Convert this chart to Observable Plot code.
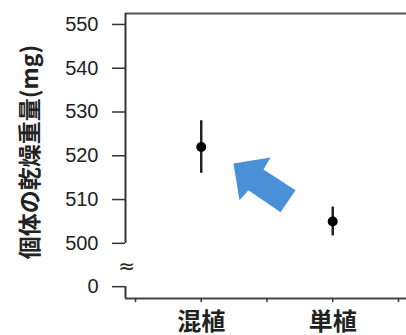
<!DOCTYPE html>
<html>
<head>
<meta charset="utf-8">
<script src="https://cdn.jsdelivr.net/npm/d3@7"></script>
<script src="https://cdn.jsdelivr.net/npm/@observablehq/plot@0.6"></script>
<style>
  html, body { margin: 0; padding: 0; background: #fff; }
</style>
</head>
<body>
<div id="chart"></div>
<script>
// ---- data ----
const categories = ["混植", "単植"];
const catPos = [1, 2];
const means = [522, 505];
const upper = [528, 508.3];
const lower = [516, 501.7];

const yTicks = [500, 510, 520, 530, 540, 550];
const zeroLabel = "0";
const zeroPos = 490.1;      // axis-break position where "0" is drawn
const breakMid = 494.6;     // position of the "≈" break symbol
const xTicks = [0.5, 1, 1.5, 2, 2.5];
const yTitle = "個体の乾燥重量(mg)";

// annotation arrow outline (data coordinates)
const arrowX = [1.245, 1.527, 1.473, 1.717, 1.603, 1.359, 1.291];
const arrowY = [518.26, 519.63, 516.89, 512.10, 507.08, 512.10, 509.82];

const xDomain = [0.424, 2.561];
const yDomain = [487.4, 552.5];

const points = categories.map((c, i) => ({c, x: catPos[i], m: means[i], lo: lower[i], hi: upper[i]}));
const arrow = arrowX.map((x, i) => ({x, y: arrowY[i]}));

const sans = "'Liberation Sans', Arial, Helvetica, sans-serif";
const cjk = "'Noto Sans CJK JP', 'Noto Sans CJK SC', sans-serif";

const chart = Plot.plot({
  width: 406,
  height: 335,
  marginLeft: 125,
  marginRight: 0,
  marginTop: 13,
  marginBottom: 37,
  style: {fontFamily: sans, fontSize: "20px", color: "#333", background: "#fff"},
  x: {domain: xDomain},
  y: {domain: yDomain},
  marks: [
    // frame lines
    Plot.ruleY([yDomain[1]], {stroke: "#555", strokeWidth: 2}),
    Plot.ruleY([yDomain[0]], {stroke: "#444", strokeWidth: 2}),
    Plot.ruleX([{y1: 500, y2: yDomain[1]}, {y1: yDomain[0], y2: zeroPos}],
      {x: xDomain[0], y1: "y1", y2: "y2", stroke: "#333", strokeWidth: 2}),
    // y axis ticks
    Plot.axisY({
      ticks: [...yTicks, zeroPos],
      tickFormat: d => d === zeroPos ? zeroLabel : String(d),
      tickSize: 13,
      tickPadding: 14,
      label: null,
      fontSize: 20,
      stroke: "#333",
      strokeWidth: 1.5,
      fill: "#222"
    }),
    // x axis small ticks
    Plot.axisX({ticks: xTicks, tickSize: 4, text: null, label: null, stroke: "#333", strokeWidth: 1.5}),
    // category labels
    Plot.text(categories, {x: catPos, frameAnchor: "bottom", dy: 31, fontFamily: cjk, fontWeight: "bold", fontSize: 24, fill: "#222"}),
    // y title
    Plot.text([yTitle], {frameAnchor: "left", textAnchor: "middle", dx: -95, dy: -4, rotate: -90, fontFamily: cjk, fontWeight: "bold", fontSize: 23, fill: "#222"}),
    // break symbol
    Plot.text(["≈"], {x: xDomain[0], y: breakMid, dx: 1, fontFamily: "'DejaVu Sans', sans-serif", fontSize: 20, fill: "#222"}),
    // arrow annotation
    Plot.line(arrow, {x: "x", y: "y", fill: "#4a90d8", stroke: "none", curve: "linear-closed"}),
    // error bars
    Plot.ruleX(points, {x: "x", y1: "lo", y2: "hi", stroke: "#222", strokeWidth: 2.5}),
    Plot.dot(points, {x: "x", y: "m", r: 5, fill: "#000", stroke: "none"})
  ]
});
document.getElementById("chart").appendChild(chart);
</script>
</body>
</html>
